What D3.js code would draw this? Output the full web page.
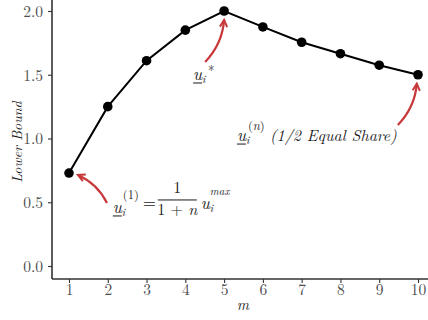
<!DOCTYPE html>
<html lang="en">
<head>
    <meta charset="UTF-8">
    <title>Lower Bound</title>
    <script src="https://d3js.org/d3.v7.min.js"></script>
    <style>
        body { margin: 0; background: #fff; }
        .axis path, .axis line { stroke: #333; }
        .axis text { fill: #4d4d4d; }
        .math { font-style: italic; fill: #1a1a1a; }
    </style>
</head>
<body>
    <svg width="428" height="320"></svg>

    <script>
        // data
        const m = [1, 2, 3, 4, 5, 6, 7, 8, 9, 10];
        const lowerBound = [0.729, 1.25, 1.61, 1.85, 2.0, 1.875, 1.755, 1.665, 1.575, 1.5];
        const xTicks = [1, 2, 3, 4, 5, 6, 7, 8, 9, 10];
        const yTicks = [0.0, 0.5, 1.0, 1.5, 2.0];

        // arrows: [tail m, tail bound, head m, head bound]
        const arrows = [
            [1.98, 0.494, 1.23, 0.714],
            [4.51, 1.60, 5.0, 1.93],
            [9.48, 1.106, 9.97, 1.43]
        ];

        const serif = "'CMU Serif', 'Latin Modern Roman', 'Liberation Serif', serif";
        const svg = d3.select("svg");
        const panelL = 52, panelB = 279, panelR = 428, panelT = 0;

        const x = d3.scaleLinear().domain([1, 10]).range([69, 418]);
        const y = d3.scaleLinear().domain([0, 2]).range([266, 11]);

        // axes
        const xAxis = svg.append("g")
            .attr("class", "axis")
            .attr("transform", `translate(0,${panelB})`)
            .call(d3.axisBottom(x).tickValues(xTicks).tickSize(4).tickPadding(3).tickFormat(d3.format("d")));
        xAxis.select(".domain").attr("d", `M${panelL},0H${panelR}`).attr("stroke-width", 1.6);
        xAxis.selectAll(".tick text").attr("dy", null).attr("y", 16);

        const yAxis = svg.append("g")
            .attr("class", "axis")
            .attr("transform", `translate(${panelL},0)`)
            .call(d3.axisLeft(y).tickValues(yTicks).tickSize(4).tickPadding(5).tickFormat(d3.format(".1f")));
        yAxis.select(".domain").attr("d", `M0,${panelT}V${panelB}`).attr("stroke-width", 1.6);
        yAxis.selectAll(".tick text").attr("dy", "0.34em");
        svg.selectAll(".axis .tick line").attr("stroke-width", 1.1);
        svg.selectAll(".axis").attr("font-size", 15.5);

        // axis titles
        svg.append("text")
            .attr("class", "math")
            .attr("x", 243).attr("y", 310)
            .attr("text-anchor", "middle")
            .attr("font-size", 15)
            .text("m");

        svg.append("text")
            .attr("class", "math")
            .attr("transform", "translate(22,142) rotate(-90)")
            .attr("text-anchor", "middle")
            .attr("font-size", 14)
            .text("Lower Bound");

        // line and points
        const pts = m.map((d, i) => [d, lowerBound[i]]);
        svg.append("path")
            .datum(pts)
            .attr("fill", "none")
            .attr("stroke", "#000")
            .attr("stroke-width", 2)
            .attr("d", d3.line().x(d => x(d[0])).y(d => y(d[1])));

        svg.append("g").selectAll("circle")
            .data(pts)
            .enter().append("circle")
            .attr("cx", d => x(d[0]))
            .attr("cy", d => y(d[1]))
            .attr("r", 4.8)
            .attr("fill", "#000");

        // arrows
        const red = "#c8373a";
        svg.append("defs").append("marker")
            .attr("id", "head")
            .attr("markerUnits", "userSpaceOnUse")
            .attr("markerWidth", 14).attr("markerHeight", 14)
            .attr("refX", 0).attr("refY", 0)
            .attr("viewBox", "-10 -7 14 14")
            .attr("orient", "auto")
            .append("path")
            .attr("d", "M-7,-3.6L0,0L-7,3.6")
            .attr("fill", "none")
            .attr("stroke", red)
            .attr("stroke-width", 2);

        const k = 0.18;
        svg.append("g").selectAll("path")
            .data(arrows)
            .enter().append("path")
            .attr("fill", "none")
            .attr("stroke", red)
            .attr("stroke-width", 2.2)
            .attr("marker-end", "url(#head)")
            .attr("d", a => {
                const x0 = x(a[0]), y0 = y(a[1]), x1 = x(a[2]), y1 = y(a[3]);
                const dx = x1 - x0, dy = y1 - y0;
                const cx = (x0 + x1) / 2 - k * dy, cy = (y0 + y1) / 2 + k * dx;
                return `M${x0},${y0}Q${cx},${cy} ${x1},${y1}`;
            });

        // math labels
        function uvar(g, px, py, sub) {
            g.append("text").attr("class", "math").attr("x", px).attr("y", py)
                .attr("font-size", 17).text("u");
            g.append("line").attr("x1", px).attr("x2", px + 9)
                .attr("y1", py + 3).attr("y2", py + 3)
                .attr("stroke", "#1a1a1a").attr("stroke-width", 1);
            g.append("text").attr("class", "math").attr("x", px + 9).attr("y", py + 3)
                .attr("font-size", 11).text(sub);
        }
        function plain(g, px, py, size, str, anchor) {
            return g.append("text").attr("x", px).attr("y", py)
                .attr("font-size", size).attr("fill", "#1a1a1a")
                .attr("text-anchor", anchor || "start").text(str);
        }

        // u_i^(1) = 1/(1+n) u_i^max
        const g1 = svg.append("g").attr("transform", `translate(${x(2.13)},${y(0.416)})`);
        uvar(g1, 0, 0, "i");
        plain(g1, 10, -14, 12.5, "(1)");
        plain(g1, 30, -5, 17, "=");
        g1.append("line").attr("x1", 45).attr("x2", 84).attr("y1", -13).attr("y2", -13)
            .attr("stroke", "#1a1a1a").attr("stroke-width", 1);
        plain(g1, 64.5, -20, 16, "1", "middle");
        plain(g1, 64.5, 2, 16, "", "middle")
            .call(t => {
                t.append("tspan").text("1 + ");
                t.append("tspan").attr("font-style", "italic").text("n");
            });
        g1.append("text").attr("class", "math").attr("x", 88).attr("y", -4)
            .attr("font-size", 17).text("u");
        g1.append("text").attr("class", "math").attr("x", 97).attr("y", -1)
            .attr("font-size", 11).text("i");
        g1.append("text").attr("class", "math").attr("x", 97).attr("y", -18)
            .attr("font-size", 11).text("max");

        // u_i^*
        const g2 = svg.append("g").attr("transform", `translate(${x(4.2)},${y(1.459)})`);
        uvar(g2, 0, 0, "i");
        plain(g2, 15, -5, 13, "*");

        // u_i^(n) (1/2 Equal Share)
        const g3 = svg.append("g").attr("transform", `translate(${x(5.33)},${y(0.98)})`);
        uvar(g3, 0, 0, "i");
        plain(g3, 11, -11, 12.5, "(").call(t => {
            t.append("tspan").attr("font-style", "italic").text("n");
            t.append("tspan").text(")");
        });
        g3.append("text").attr("class", "math").attr("x", 33).attr("y", 0)
            .attr("font-size", 16).text("(1/2 Equal Share)");

        // serif everywhere
        svg.selectAll("g").attr("font-family", null);
        svg.selectAll("text").style("font-family", serif);
    </script>
</body>
</html>
